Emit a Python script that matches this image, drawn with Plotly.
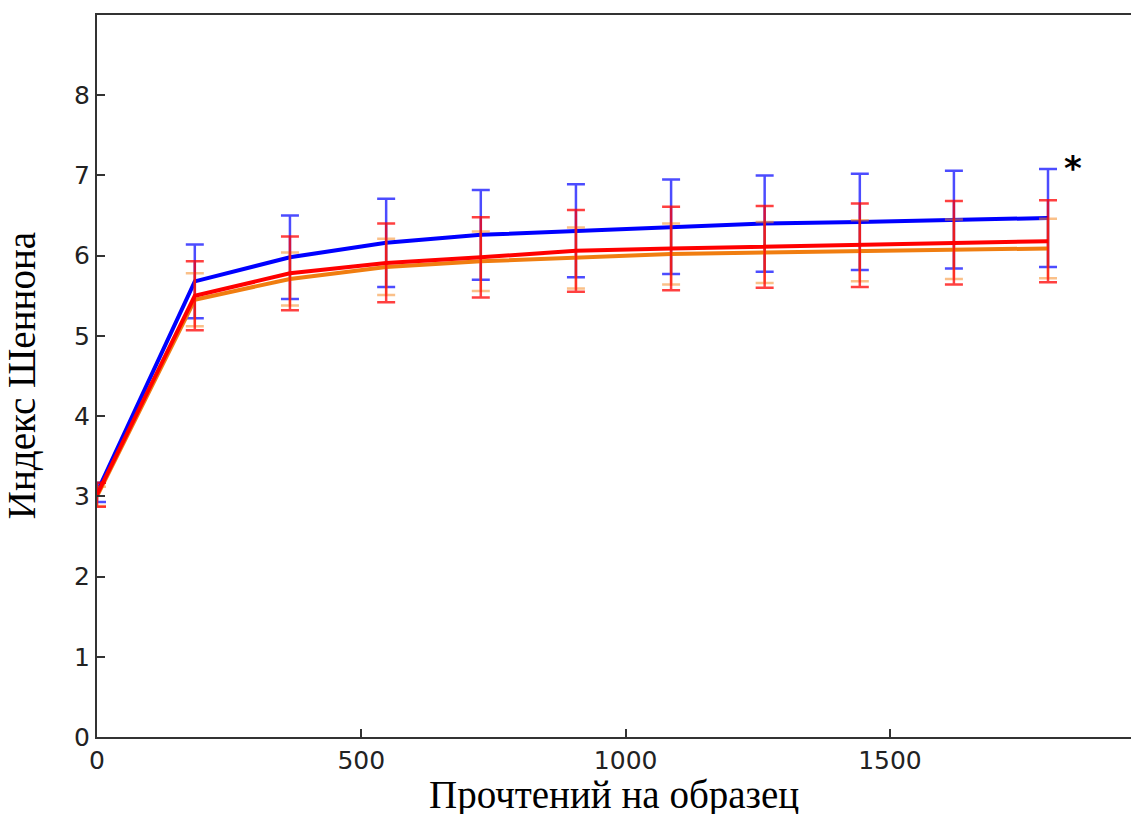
import plotly.graph_objects as go

reads = [0, 185, 365, 547, 726, 906, 1086, 1263, 1443, 1621, 1799]

blue_vals = [3.05, 5.68, 5.98, 6.16, 6.26, 6.31, 6.36, 6.40, 6.42, 6.45, 6.47]
blue_err = [0.12, 0.46, 0.52, 0.55, 0.56, 0.58, 0.59, 0.60, 0.60, 0.61, 0.61]

red_vals = [3.02, 5.50, 5.78, 5.91, 5.98, 6.06, 6.09, 6.11, 6.13, 6.16, 6.18]
red_err = [0.15, 0.43, 0.46, 0.49, 0.50, 0.51, 0.52, 0.51, 0.52, 0.52, 0.51]

orange_vals = [3.00, 5.45, 5.71, 5.86, 5.93, 5.97, 6.02, 6.04, 6.06, 6.08, 6.09]
orange_err = [0.12, 0.33, 0.33, 0.35, 0.37, 0.38, 0.38, 0.38, 0.38, 0.37, 0.37]

x_ticks = [0, 500, 1000, 1500]
y_ticks = [0, 1, 2, 3, 4, 5, 6, 7, 8]

series = [
    ("blue", blue_vals, blue_err, "#0000ff", "rgba(0,0,255,0.7)"),
    ("orange", orange_vals, orange_err, "#f07d10", "rgba(245,140,40,0.55)"),
    ("red", red_vals, red_err, "#ff0000", "rgba(255,0,0,0.75)"),
]

fig = go.Figure()
for name, vals, err, col, ecol in series:
    fig.add_trace(go.Scatter(
        x=reads, y=vals, mode="lines", name=name,
        line=dict(color=col, width=4),
        error_y=dict(type="data", array=err, visible=True,
                     color=ecol, thickness=2.5, width=9),
        showlegend=False, hoverinfo="skip",
    ))

fig.add_annotation(x=1846, y=7.12, xref="x", yref="y", text="<b>*</b>",
                   showarrow=False, font=dict(family="DejaVu Sans", size=34, color="#000"),
                   xanchor="center", yanchor="middle", yshift=-2)

fig.add_annotation(x=0.5, y=-0.047, xref="paper", yref="paper",
                   text="Прочтений на образец", showarrow=False,
                   font=dict(family="Liberation Serif", size=39, color="#000"),
                   xanchor="center", yanchor="top")
fig.add_annotation(x=-0.096, y=0.5, xref="paper", yref="paper",
                   text="Индекс Шеннона", showarrow=False, textangle=-90,
                   font=dict(family="Liberation Serif", size=39, color="#000"),
                   xanchor="left", yanchor="middle")

axis_common = dict(showgrid=False, zeroline=False, showline=True,
                   linecolor="#333", linewidth=2, ticks="inside",
                   ticklen=8, tickwidth=1.5, tickcolor="#333",
                   tickfont=dict(family="DejaVu Sans", size=25, color="#222"))

fig.update_layout(
    width=1131, height=814,
    margin=dict(l=97, r=0, t=15, b=77),
    paper_bgcolor="white", plot_bgcolor="white",
    xaxis=dict(range=[0, 1956], tickvals=x_ticks, mirror=True, **axis_common),
    yaxis=dict(range=[0, 9], tickvals=y_ticks, mirror=False, **axis_common),
)

fig.write_html("out.html")
